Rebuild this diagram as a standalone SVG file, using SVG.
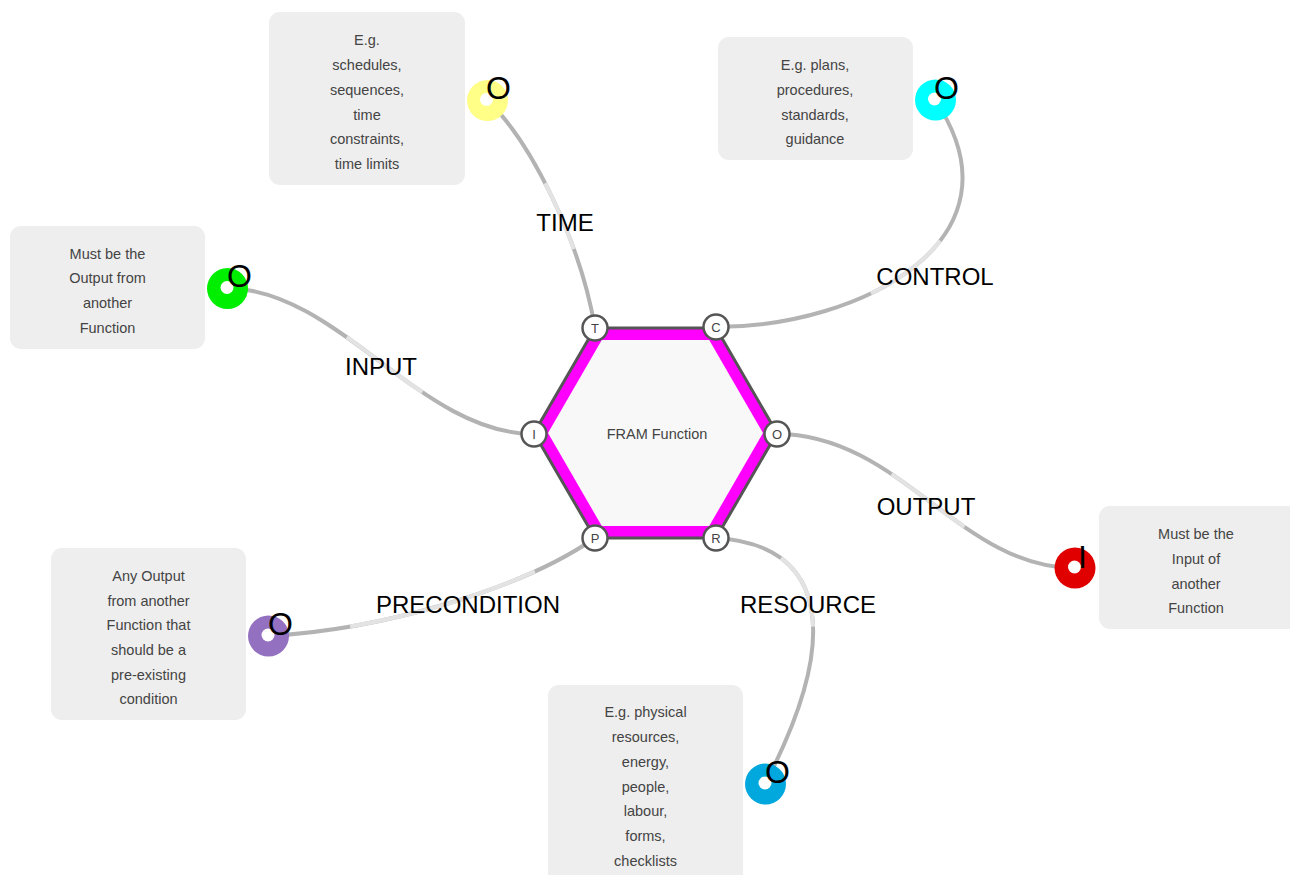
<svg xmlns="http://www.w3.org/2000/svg" width="1290" height="875" viewBox="0 0 1290 875">
<style>
.box{fill:#eeeeee}
.bt{font-family:"Liberation Sans",Arial,sans-serif;font-size:14.5px;fill:#444;text-anchor:middle}
.wire{fill:none;stroke:#b3b3b3;stroke-width:4}
.lite{fill:none;stroke:#e3e3e3;stroke-width:4}
.port{fill:#fff;stroke:#555;stroke-width:2.5}
.pl{font-family:"Liberation Sans",Arial,sans-serif;font-size:13px;fill:#444;text-anchor:middle}
.lbl{font-family:"Liberation Sans",Arial,sans-serif;font-size:24px;fill:#000;text-anchor:middle}
.end{font-family:"Liberation Sans",Arial,sans-serif;font-size:32px;fill:#000}
.hole{fill:#fff}
</style>
<rect width="1290" height="875" fill="#fff"/>
<g id="box-time"><rect class="box" x="269" y="12" width="196" height="173" rx="11"/>
<text class="bt"><tspan x="367" y="45">E.g.</tspan><tspan x="367" y="70">schedules,</tspan><tspan x="367" y="95">sequences,</tspan><tspan x="367" y="120">time</tspan><tspan x="367" y="144">constraints,</tspan><tspan x="367" y="169">time limits</tspan></text></g>
<g id="box-control"><rect class="box" x="718" y="37" width="195" height="123" rx="11"/>
<text class="bt"><tspan x="815" y="70">E.g. plans,</tspan><tspan x="815" y="95">procedures,</tspan><tspan x="815" y="120">standards,</tspan><tspan x="815" y="144">guidance</tspan></text></g>
<g id="box-input"><rect class="box" x="10" y="226" width="195" height="123" rx="11"/>
<text class="bt"><tspan x="107.5" y="259">Must be the</tspan><tspan x="107.5" y="283">Output from</tspan><tspan x="107.5" y="308">another</tspan><tspan x="107.5" y="333">Function</tspan></text></g>
<g id="box-output"><rect class="box" x="1099" y="506" width="200" height="123" rx="11"/>
<text class="bt"><tspan x="1196" y="539">Must be the</tspan><tspan x="1196" y="564">Input of</tspan><tspan x="1196" y="589">another</tspan><tspan x="1196" y="613">Function</tspan></text></g>
<g id="box-precondition"><rect class="box" x="51" y="548" width="195" height="172" rx="11"/>
<text class="bt"><tspan x="148.5" y="581">Any Output</tspan><tspan x="148.5" y="606">from another</tspan><tspan x="148.5" y="630">Function that</tspan><tspan x="148.5" y="655">should be a</tspan><tspan x="148.5" y="680">pre-existing</tspan><tspan x="148.5" y="704">condition</tspan></text></g>
<g id="box-resource"><rect class="box" x="548" y="685" width="195" height="200" rx="11"/>
<text class="bt"><tspan x="645.5" y="717">E.g. physical</tspan><tspan x="645.5" y="742">resources,</tspan><tspan x="645.5" y="767">energy,</tspan><tspan x="645.5" y="792">people,</tspan><tspan x="645.5" y="816">labour,</tspan><tspan x="645.5" y="841">forms,</tspan><tspan x="645.5" y="866">checklists</tspan></text></g>
<g id="connectors">
<path class="wire" d="M487,100 C530,140 580,240 595,328"/>
<path class="lite" pathLength="100" stroke-dasharray="0 40 28 100" d="M487,100 C530,140 580,240 595,328"/>
<path class="wire" d="M716,327 C860,327 1030,240 935,100"/>
<path class="lite" pathLength="100" stroke-dasharray="0 40 22 100" d="M716,327 C860,327 1030,240 935,100"/>
<path class="wire" d="M227,288 C340,290 420,434 534,434"/>
<path class="lite" pathLength="100" stroke-dasharray="0 38 27 100" d="M227,288 C340,290 420,434 534,434"/>
<path class="wire" d="M777,434 C900,434 960,568 1075,568"/>
<path class="lite" pathLength="100" stroke-dasharray="0 37 27 100" d="M777,434 C900,434 960,568 1075,568"/>
<path class="wire" d="M268,636 C380,630 520,590 595,538"/>
<path class="lite" pathLength="100" stroke-dasharray="0 24 56 100" d="M268,636 C380,630 520,590 595,538"/>
<path class="wire" d="M716,538 C830,545 840,640 765,784"/>
<path class="lite" pathLength="100" stroke-dasharray="0 22 25 100" d="M716,538 C830,545 840,640 765,784"/>
</g>
<g id="fram-function">
<polygon points="595,328 716,328 777,433 716,538 595,538 534,433" fill="#ff00ff" stroke="#555" stroke-width="3" stroke-linejoin="round"/>
<polygon points="601.8,340 709.2,340 763,433 709.2,526 601.8,526 548,433" fill="#f8f8f8"/>
<text x="657" y="439" class="bt">FRAM Function</text>
</g>
<g id="ports">
<circle class="port" cx="595" cy="328" r="12.5"/><text class="pl" x="595" y="333">T</text>
<circle class="port" cx="716" cy="327" r="12.5"/><text class="pl" x="716" y="332">C</text>
<circle class="port" cx="534" cy="434" r="12.5"/><text class="pl" x="534" y="439">I</text>
<circle class="port" cx="777" cy="434" r="12.5"/><text class="pl" x="777" y="439">O</text>
<circle class="port" cx="595" cy="538" r="12.5"/><text class="pl" x="595" y="543">P</text>
<circle class="port" cx="716" cy="538" r="12.5"/><text class="pl" x="716" y="543">R</text>
</g>
<g id="end-time"><circle cx="487.5" cy="100.5" r="20.5" fill="#ffff88"/><circle class="hole" cx="486.5" cy="99.5" r="6.5"/><text class="end" x="486" y="99">O</text></g>
<g id="end-control"><circle cx="935.5" cy="100" r="20.5" fill="#00ffff"/><circle class="hole" cx="934.5" cy="99" r="6.5"/><text class="end" x="934" y="99">O</text></g>
<g id="end-input"><circle cx="227.5" cy="288.5" r="20.5" fill="#00ee00"/><circle class="hole" cx="227" cy="287.5" r="6.5"/><text class="end" x="227" y="287">O</text></g>
<g id="end-output"><circle cx="1075" cy="568" r="20.5" fill="#e00000"/><circle class="hole" cx="1074.5" cy="567" r="6.5"/><text class="end" x="1078" y="568">I</text></g>
<g id="end-precondition"><circle cx="268.5" cy="636" r="20.5" fill="#9370c0"/><circle class="hole" cx="268" cy="635" r="6.5"/><text class="end" x="268" y="635">O</text></g>
<g id="end-resource"><circle cx="765.5" cy="784" r="20.5" fill="#00a8dd"/><circle class="hole" cx="765" cy="783" r="6.5"/><text class="end" x="765" y="783">O</text></g>
<g id="labels">
<text class="lbl" x="565" y="231">TIME</text>
<text class="lbl" x="935" y="285">CONTROL</text>
<text class="lbl" x="381" y="375">INPUT</text>
<text class="lbl" x="926" y="515">OUTPUT</text>
<text class="lbl" x="468" y="613">PRECONDITION</text>
<text class="lbl" x="808" y="613">RESOURCE</text>
</g>
</svg>
